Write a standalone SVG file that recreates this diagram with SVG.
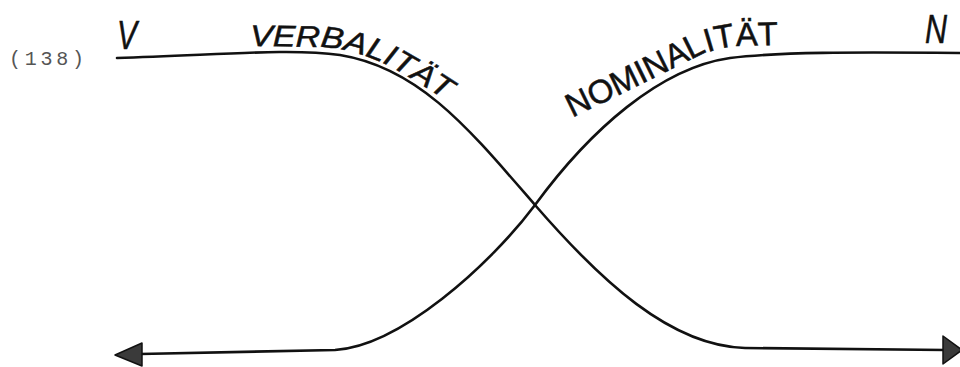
<svg xmlns="http://www.w3.org/2000/svg" width="960" height="367" viewBox="0 0 960 367">
<style>
.curve{fill:none;stroke:#111;stroke-width:2.6;stroke-linecap:round;stroke-linejoin:round}
.arrow{fill:#3a3a3a;stroke:#111;stroke-width:1.5;stroke-linejoin:round}
.hand{font-family:"Liberation Sans",Arial,sans-serif;fill:#111;stroke:#111;stroke-width:0.5}
.num{font-family:"Liberation Mono","Courier New",monospace;fill:#555;font-size:20px}
</style>
<defs>
<path id="pVerb" d="M 250,46 L 322,47 Q 362,50 400,72 T 462,112"/>
<path id="pNom" d="M 572,118 Q 640,85 700,55 Q 720,47 740,46 L 810,44"/>
</defs>
<rect width="960" height="367" fill="#fff"/>
<g id="label-number">
<text class="num" x="9" y="65" textLength="75" lengthAdjust="spacing">(138)</text>
</g>
<g id="connectors">
<g id="verbalitaet-curve">
<path class="curve" d="M 117,58 C 220,55 290,48 340,55 C 420,68 470,130 535,205 C 600,280 670,346 745,348 L 945,350"/>
<polygon class="arrow" points="943,336 943,364 962,350"/>
</g>
<g id="nominalitaet-curve">
<path class="curve" d="M 960,53 C 850,52 780,52 730,58 C 660,68 590,130 535,205 C 490,265 400,346 335,350 L 140,354"/>
<polygon class="arrow" points="142,343 142,366 115,355"/>
</g>
</g>
<g id="node-V">
<text class="hand" x="117" y="49" font-size="40" font-style="italic" textLength="20" lengthAdjust="spacingAndGlyphs">V</text>
</g>
<g id="node-N">
<text class="hand" x="925" y="43" font-size="40" font-style="italic" textLength="22" lengthAdjust="spacingAndGlyphs">N</text>
</g>
<g id="label-verbalitaet">
<text class="hand" font-size="30" font-style="italic"><textPath href="#pVerb" textLength="208" lengthAdjust="spacingAndGlyphs">VERBALITÄT</textPath></text>
</g>
<g id="label-nominalitaet">
<text class="hand" font-size="33"><textPath href="#pNom" textLength="222" lengthAdjust="spacingAndGlyphs">NOMINALITÄT</textPath></text>
</g>
</svg>
